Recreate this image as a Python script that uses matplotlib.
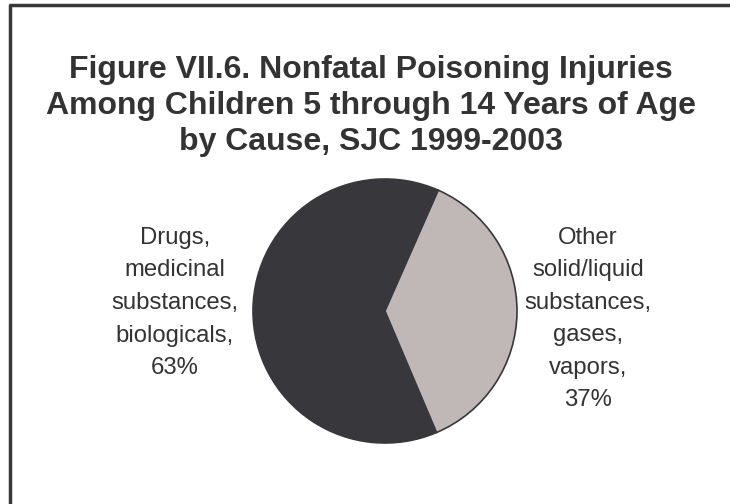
import matplotlib.pyplot as plt
from matplotlib.lines import Line2D

# data
causes = ["Drugs,\nmedicinal\nsubstances,\nbiologicals", "Other\nsolid/liquid\nsubstances,\ngases,\nvapors"]
shares = [63, 37]
colors = ["#38373c", "#c0b8b6"]
title = "Figure VII.6. Nonfatal Poisoning Injuries\nAmong Children 5 through 14 Years of Age\nby Cause, SJC 1999-2003"

plt.rcParams['font.family'] = ['Liberation Sans', 'DejaVu Sans']

fig = plt.figure(figsize=(7.3, 5.04), dpi=100)
ax = fig.add_axes([0, 0, 1, 1])
ax.set_xlim(0, 730)
ax.set_ylim(504, 0)
ax.set_aspect('equal')
ax.axis('off')

# frame (only left and top visible in the crop)
fig.add_artist(Line2D([10 / 730, 10 / 730, 1], [0, 1 - 5 / 504, 1 - 5 / 504],
                      transform=fig.transFigure, color="#38373c", lw=2.5))

ax.text(371, 106, title, ha="center", va="center", fontsize=23, fontweight="bold",
        color="#333333", linespacing=1.26)

ax.pie(shares, colors=colors, startangle=67, center=(385, 311), radius=132,
       wedgeprops=dict(edgecolor="#38373c", linewidth=1.2))
ax.set_xlim(0, 730)
ax.set_ylim(504, 0)

label_pos = [(175, 303), (588, 319)]
for name, val, (x, y) in zip(causes, shares, label_pos):
    ax.text(x, y, "{},\n{}%".format(name, val), ha="center", va="center",
            fontsize=17.2, color="#333333", linespacing=1.62)

fig.savefig("out.png", dpi=100)
